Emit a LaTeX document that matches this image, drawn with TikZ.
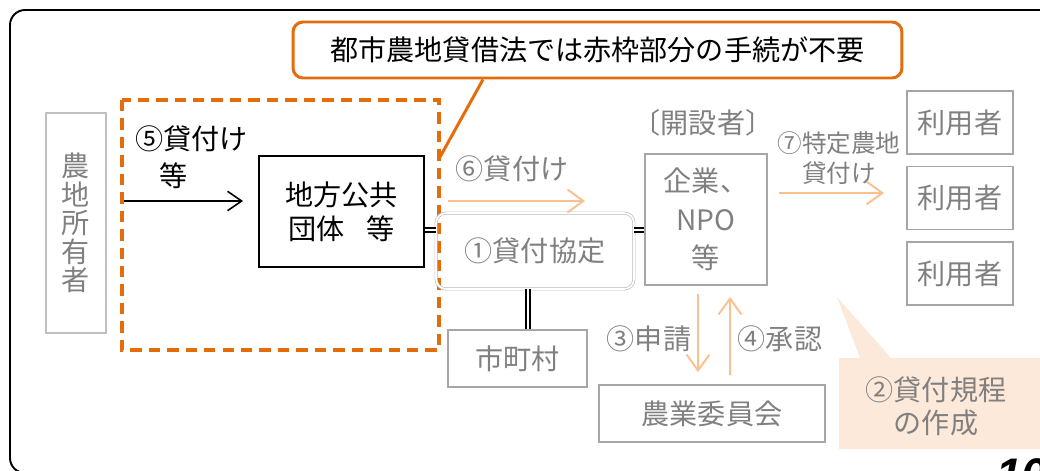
\documentclass[tikz,border=0pt]{standalone}
\usepackage{fontspec}
\setmainfont{Noto Sans CJK JP}
\newfontfamily\numfont{Liberation Sans}
\usepackage{xcolor}
\usepackage{tikz}
\usetikzlibrary{arrows.meta}
\usetikzlibrary{positioning}
\definecolor{frameorange}{HTML}{E46C0A}
\definecolor{txtgray}{HTML}{808080}
\definecolor{boxgray}{HTML}{A6A6A6}
\definecolor{ownergray}{HTML}{C0C0C0}
\definecolor{arroworange}{HTML}{FAC090}
\definecolor{notepeach}{HTML}{FDE9D9}
\tikzset{>=latex}
\tikzstyle{graybox} = [rectangle, draw=boxgray, line width=1.1pt, text=txtgray, align=center, inner sep=0pt, font=\fontsize{16}{20}\selectfont]
\tikzstyle{blackbox} = [rectangle, draw=black, line width=1.1pt, align=center, inner sep=0pt, font=\fontsize{16}{19.5}\selectfont]
\tikzstyle{graytxt} = [draw=none, text=txtgray, align=center, inner sep=0pt, font=\fontsize{16}{20}\selectfont]
\tikzstyle{lightarrow} = [-{Straight Barb[length=9pt, width=13pt]}, draw=arroworange, line width=1.1pt]
\tikzstyle{dbl} = [-, double, double distance=1.3pt, line width=0.8pt, draw=black]

\begin{document}
\begin{tikzpicture}[x=0.02cm, y=-0.02cm]
\useasboundingbox (0, 0) rectangle (1040, 470);
\draw [line width=1.1pt, rounded corners=0.3cm] (10, 10) rectangle (1090, 473);
\draw [draw=frameorange, line width=2.3pt, dash pattern=on 6.5pt off 4pt] (122, 100) rectangle (439, 350);
\node [rectangle, rounded corners=0.2cm, draw=frameorange, line width=1.7pt, fill=white, minimum width=12.18cm, minimum height=1.12cm, font=\fontsize{16}{20}\selectfont] (CO) at (597.5, 50) {都市農地貸借法では赤枠部分の手続が不要};
\draw [draw=frameorange, line width=1.7pt] (CO.south -| 483, 0) -- (440, 157);
\node [graybox, draw=ownergray, minimum width=1.2cm, minimum height=4.4cm, font=\fontsize{16}{16.3}\selectfont] (OW) at (76, 223) {農\\地\\所\\有\\者};
\node [draw=none, anchor=west, align=left, inner sep=0pt, font=\fontsize{16}{21}\selectfont] (T5) at (135, 157) {⑤貸付け\\\hspace{0.85em}等};
\node [blackbox, minimum width=3.3cm, minimum height=2.22cm] (LG) at (341.5, 211.5) {地方公共\\団体\hspace{0.8em}等};
\node [graybox, draw=none, minimum width=3.92cm, minimum height=1.48cm] (AG) at (535, 251) {①貸付協定};
\draw [draw=boxgray!80, double, double distance=1pt, line width=0.35pt, rounded corners=0.2cm] (AG.north west) rectangle (AG.south east);
\node [graybox, minimum width=2.78cm, minimum height=1.14cm] (CT) at (517.5, 358.5) {市町村};
\node [graybox, minimum width=2.44cm, minimum height=2.62cm, font=\fontsize{16}{21.8}\selectfont] (NPO) at (706, 219.5) {企業、\\NPO\\等};
\node [graytxt] (KS) at (703, 123) {〔開設者〕};
\node [graybox, minimum width=2.12cm, minimum height=1.26cm] (U1) at (960, 122.5) {利用者};
\node [graybox, minimum width=2.12cm, minimum height=1.26cm] (U2) at (960, 198) {利用者};
\node [graybox, minimum width=2.12cm, minimum height=1.26cm] (U3) at (960, 273.5) {利用者};
\node [graybox, minimum width=4.52cm, minimum height=1.14cm] (NI) at (712, 413.5) {農業委員会};
\fill [notepeach] (839, 358) -- (860, 358) -- (837, 297) -- (891, 358) -- (1060, 358) -- (1060, 449) -- (839, 449) -- cycle;
\node [graytxt, font=\fontsize{16}{18.7}\selectfont] (RC) at (936, 406) {②貸付規程\\の作成};
\node [graytxt] (T6) at (512, 169) {⑥貸付け};
\node [graytxt, font=\fontsize{14}{17}\selectfont] (T7) at (839, 158) {⑦特定農地\\貸付け};
\node [graytxt] (T3) at (649, 339) {③申請};
\node [graytxt] (T4) at (780, 339) {④承認};
\node [draw=none, anchor=north west, inner sep=0pt, font=\fontsize{26}{26}\selectfont\numfont\bfseries\itshape] (PG) at (996, 458) {10};
% connectors
\coordinate (P5) at (124, 201);
\draw [-{Straight Barb[length=8pt, width=11pt]}, draw=black, line width=0.9pt] (P5) -- ([xshift=-0.3cm]LG.west |- P5);
\coordinate (P6a) at (448, 201);
\coordinate (P6b) at (585, 201);
\draw [lightarrow] (P6a) -- (P6b);
\coordinate (P7a) at (779, 193);
\coordinate (P7b) at (884, 193);
\draw [lightarrow] (P7a) -- (P7b);
\coordinate (P3) at (698, 330);
\coordinate (P4) at (730, 330);
\draw [lightarrow, shorten <=0.16cm, shorten >=0.24cm] (NPO.south -| P3) -- (NI.north -| P3);
\draw [lightarrow, shorten <=0.18cm, shorten >=0.22cm] (NI.north -| P4) -- (NPO.south -| P4);
\draw [dbl] (LG.east |- 0, 230) -- (AG.west |- 0, 230);
\draw [dbl] (AG.east |- 0, 230) -- (NPO.west |- 0, 230);
\draw [dbl] (AG.south -| 528, 0) -- (CT.north -| 528, 0);
\end{tikzpicture}
\end{document}
